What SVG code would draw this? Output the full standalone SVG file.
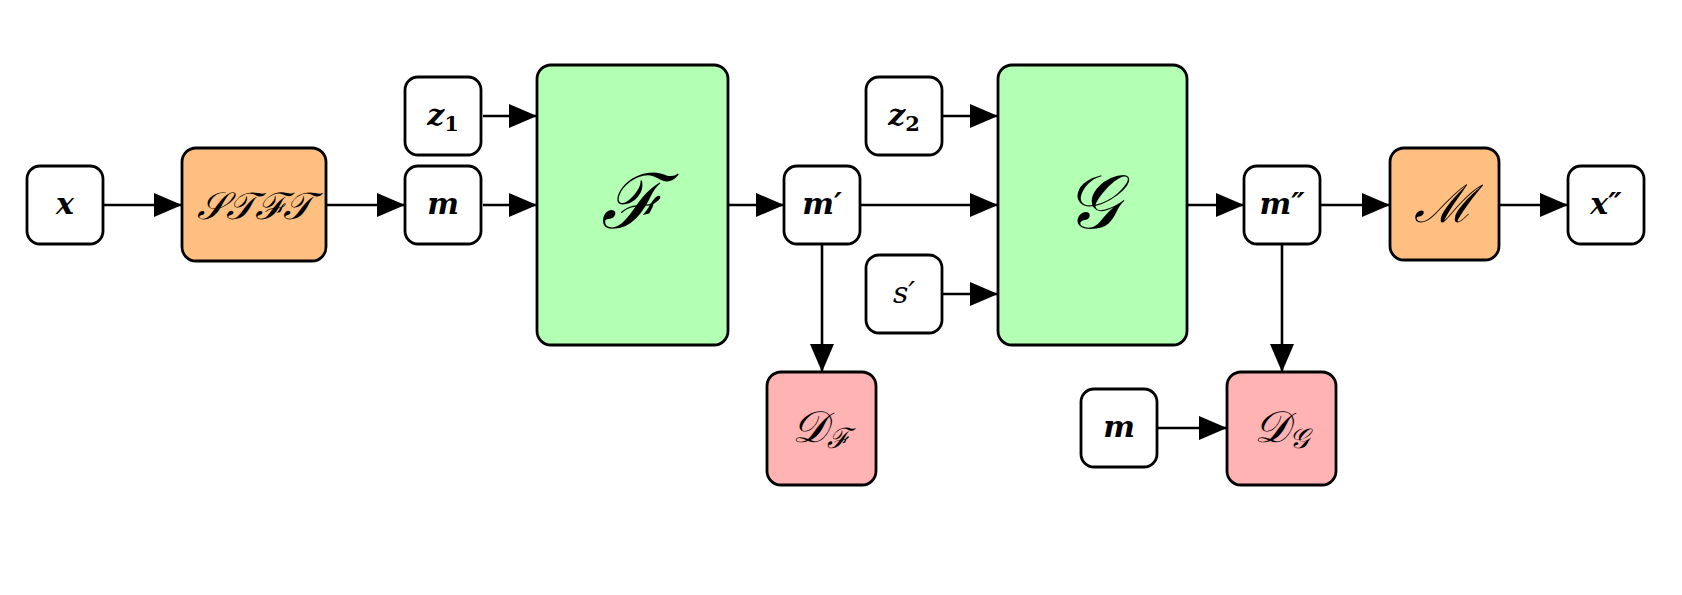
<svg xmlns="http://www.w3.org/2000/svg" width="1682" height="595" viewBox="0 0 1682 595">
<defs>
<style>
.box{stroke:#000;stroke-width:2.8}
.w{fill:#fff}
.o{fill:#FFBF80}
.g{fill:#B3FFB3}
.p{fill:#FFB3B3}
.t{font-family:"DejaVu Serif","Liberation Serif",serif;font-style:italic;font-weight:bold;font-size:30px;text-anchor:middle;fill:#000}
.n{font-family:"DejaVu Serif","Liberation Serif",serif;font-style:italic;font-weight:normal;font-size:30px;text-anchor:middle;fill:#000}
.c{font-family:"DejaVu Serif","Liberation Serif",serif;font-style:italic;text-anchor:middle;fill:#000}
.e{stroke:#000;stroke-width:2.6;fill:none;marker-end:url(#ah)}
</style>
<marker id="ah" markerUnits="userSpaceOnUse" markerWidth="30" markerHeight="26" refX="28" refY="12" orient="auto">
<path d="M0,0 L28,12 L0,24 z" fill="#000"/>
</marker>
</defs>
<rect width="1682" height="595" fill="#fff"/>
<g id="connectors">
<line class="e" x1="104" y1="205" x2="182" y2="205"/>
<line class="e" x1="326" y1="205" x2="405" y2="205"/>
<line class="e" x1="483" y1="205" x2="537" y2="205"/>
<line class="e" x1="483" y1="116" x2="537" y2="116"/>
<line class="e" x1="728" y1="205" x2="784" y2="205"/>
<line class="e" x1="860" y1="205" x2="998" y2="205"/>
<line class="e" x1="942" y1="116" x2="998" y2="116"/>
<line class="e" x1="942" y1="294" x2="998" y2="294"/>
<line class="e" x1="822" y1="245" x2="822" y2="372"/>
<line class="e" x1="1187" y1="205" x2="1244" y2="205"/>
<line class="e" x1="1320" y1="205" x2="1390" y2="205"/>
<line class="e" x1="1499" y1="205" x2="1568" y2="205"/>
<line class="e" x1="1282" y1="245" x2="1282" y2="372"/>
<line class="e" x1="1158" y1="428" x2="1227" y2="428"/>
</g>
<g id="x">
<rect class="box w" x="27" y="166" width="76" height="78" rx="13"/>
<text class="t" x="65" y="214">x</text>
</g>
<g id="stft">
<rect class="box o" x="182" y="148" width="144" height="113" rx="14"/>
<text class="c" x="254" y="219" font-size="38">𝒮𝒯ℱ𝒯</text>
</g>
<g id="m">
<rect class="box w" x="405" y="166" width="76" height="78" rx="13"/>
<text class="t" x="443" y="214">m</text>
</g>
<g id="z1">
<rect class="box w" x="405" y="77" width="76" height="78" rx="13"/>
<text class="t" x="443" y="125">z<tspan font-style="normal" font-size="21" dy="6">1</tspan></text>
</g>
<g id="F">
<rect class="box g" x="537" y="65" width="191" height="280" rx="14"/>
<text class="c" x="632" y="228" font-size="76">ℱ</text>
</g>
<g id="mp">
<rect class="box w" x="784" y="166" width="76" height="78" rx="13"/>
<text class="t" x="822" y="214">m′</text>
</g>
<g id="z2">
<rect class="box w" x="866" y="77" width="76" height="78" rx="13"/>
<text class="t" x="904" y="125">z<tspan font-style="normal" font-size="21" dy="6">2</tspan></text>
</g>
<g id="sp">
<rect class="box w" x="866" y="255" width="76" height="78" rx="13"/>
<text class="n" x="904" y="303">s′</text>
</g>
<g id="G">
<rect class="box g" x="998" y="65" width="189" height="280" rx="14"/>
<text class="c" x="1092" y="228" font-size="76">𝒢</text>
</g>
<g id="mpp">
<rect class="box w" x="1244" y="166" width="76" height="78" rx="13"/>
<text class="t" x="1282" y="214">m″</text>
</g>
<g id="M">
<rect class="box o" x="1390" y="148" width="109" height="112" rx="14"/>
<text class="c" x="1444" y="222" font-size="52">ℳ</text>
</g>
<g id="xpp">
<rect class="box w" x="1568" y="166" width="76" height="78" rx="13"/>
<text class="t" x="1606" y="214">x″</text>
</g>
<g id="DF">
<rect class="box p" x="767" y="372" width="109" height="113" rx="14"/>
<text class="c" x="821" y="442" font-size="44">𝒟<tspan font-size="28" dy="6">ℱ</tspan></text>
</g>
<g id="mb">
<rect class="box w" x="1081" y="389" width="76" height="78" rx="13"/>
<text class="t" x="1119" y="437">m</text>
</g>
<g id="DG">
<rect class="box p" x="1227" y="372" width="109" height="113" rx="14"/>
<text class="c" x="1281" y="442" font-size="44">𝒟<tspan font-size="28" dy="6">𝒢</tspan></text>
</g>
</svg>
